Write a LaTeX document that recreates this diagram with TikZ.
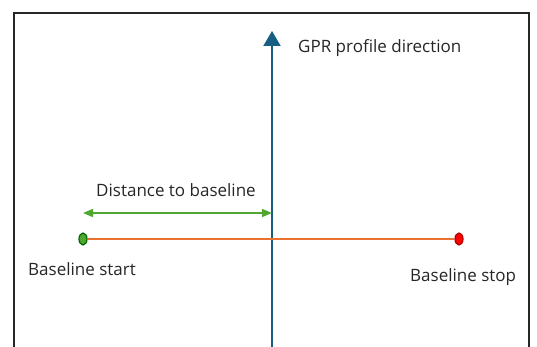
\documentclass[tikz,border=0pt]{standalone}
\usepackage{fontspec}
\setmainfont{Open Sans}
\usetikzlibrary{arrows.meta,shapes.geometric}
\definecolor{gprblue}{HTML}{156082}
\definecolor{baseorange}{HTML}{E97132}
\definecolor{distgreen}{HTML}{4EA72E}
\definecolor{dotgreen}{HTML}{4EA72E}
\definecolor{dotred}{HTML}{FF0000}
\tikzset{
  label text/.style = {font=\fontsize{17}{20}\selectfont, text=black!85, inner sep=0pt},
  end dot/.style = {ellipse, draw, line width=1.2pt, minimum width=8pt, minimum height=12pt, inner sep=0pt}
}
\begin{document}
\begin{tikzpicture}[x=1pt, y=-1pt]
\useasboundingbox (0,0) rectangle (537,347);
% frame, open at the bottom
\draw[line width=1.5pt, black!85] (14,347) -- (14,13) -- (529,13) -- (529,347);
% GPR profile
\coordinate (g0) at (272,347);
\coordinate (g1) at (272,31);
\draw[line width=2pt, gprblue, -{Triangle[length=15pt,width=17pt]}] (g0) -- (g1);
\node[label text, anchor=west] at (298,48) (gprlab) {GPR profile direction};
% baseline
\node[end dot, draw=green!40!black, fill=dotgreen] at (83,239) (bstart) {};
\node[end dot, draw=red!70!black, fill=dotred] at (459,239) (bstop) {};
\draw[line width=1.5pt, baseorange] (bstart) -- (bstop);
\node[label text, anchor=west] at (28,269) (startlab) {Baseline start};
\node[label text, anchor=west] at (410,277) (stoplab) {Baseline stop};
% distance
\coordinate (d0) at (83,213);
\coordinate (d1) at (272,213);
\draw[line width=1.5pt, distgreen, {Triangle[length=10pt,width=8pt]}-{Triangle[length=10pt,width=8pt]}] (d0) -- (d1);
\node[label text] at (176,190) (distlab) {Distance to baseline};
\end{tikzpicture}
\end{document}
